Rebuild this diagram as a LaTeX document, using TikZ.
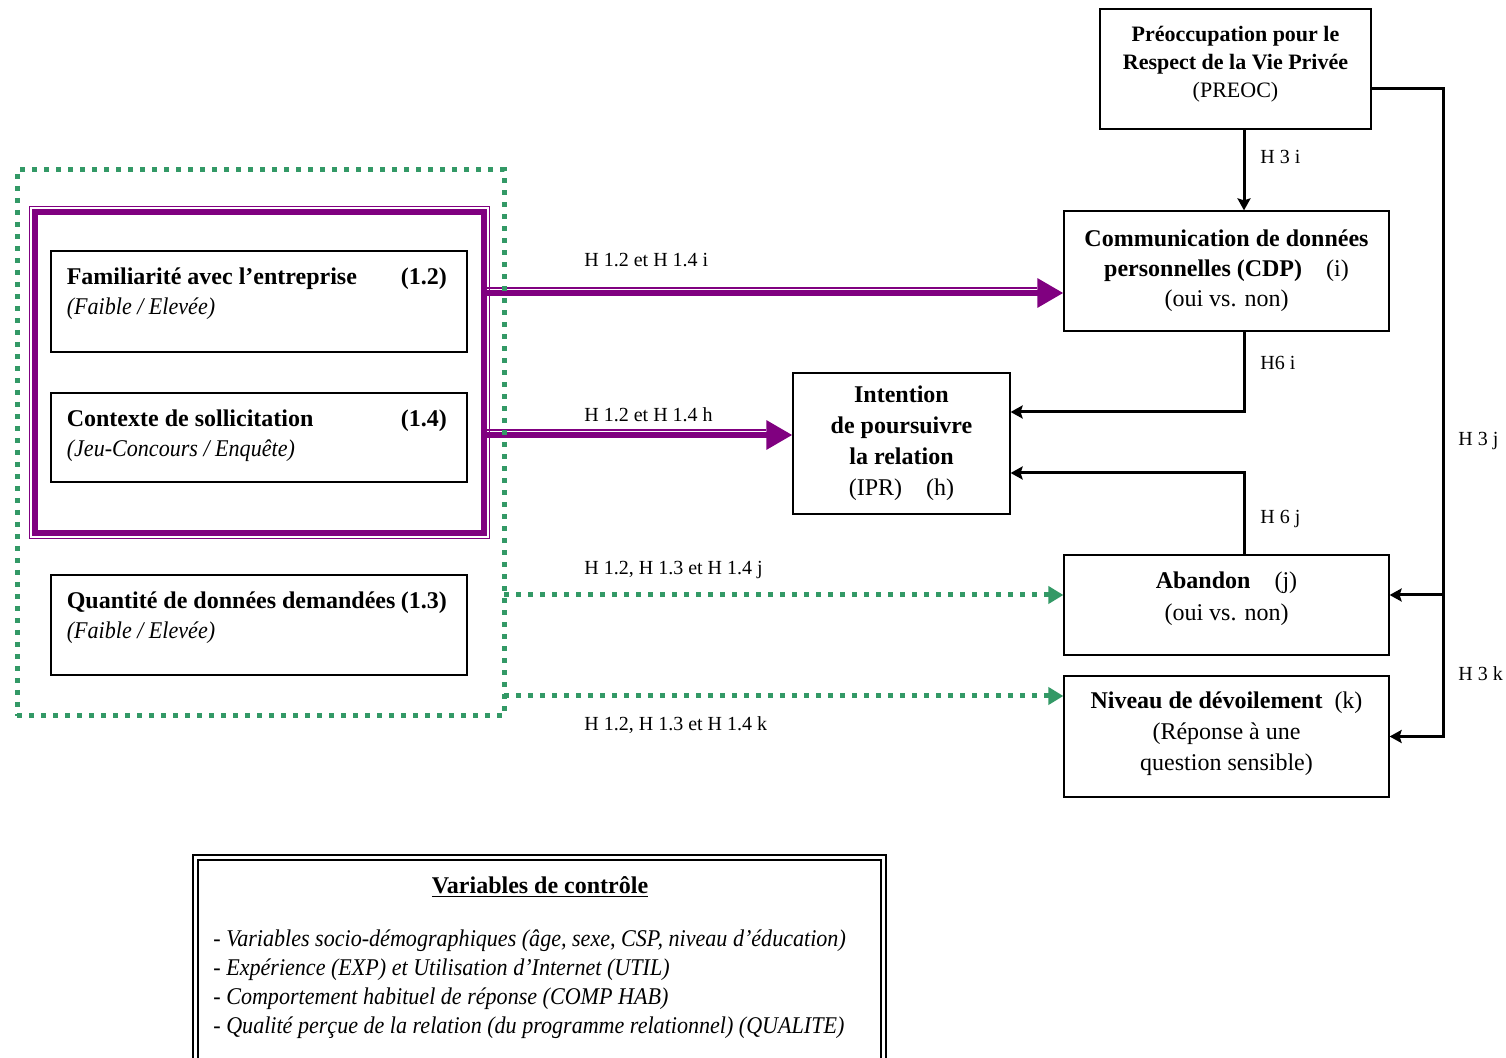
\documentclass[tikz,border=0pt]{standalone}
\usepackage{fontspec}
\setmainfont{Liberation Serif}
\newfontfamily\condfam{Liberation Serif}[FakeStretch=0.92]
\usetikzlibrary{arrows.meta,calc,positioning}
\definecolor{Plum}{HTML}{800080}
\definecolor{Jade}{HTML}{339966}
\newcommand{\factorbox}[6]{%
  \node[varbox,minimum height=#3] (#1) at (259,#2) {};
  \node[anchor=north west,inner sep=0pt,align=left,font=\fontsize{12}{15}\selectfont] (#1txt)
    at ($(#1.north west)+(16,17)$) {\makebox[190pt][l]{\textbf{#4}\hfill\textbf{#5}}\\{\condfam\itshape #6}};}

\begin{document}
\begin{tikzpicture}[x=0.5pt,y=-0.5pt,
    varbox/.style={draw,line width=0.6pt,minimum width=208pt},
    outcome/.style={draw,line width=0.6pt,align=center,font=\fontsize{12}{15}\selectfont},
    hyp/.style={font=\fontsize{10}{12}\selectfont,anchor=west,inner sep=0pt},
    flow/.style={line width=1.5pt,-{Stealth[length=6pt,width=6.5pt,inset=1pt]}},
    plumthick/.style={Plum,line width=3pt},
    plumthin/.style={Plum,line width=0.75pt},
    jadedots/.style={Jade,line width=2.5pt,dash pattern=on 2.5pt off 3.5pt}]
  \clip (0,0) rectangle (1506,1058);

  % manipulated factors
  \node[draw=Plum,line width=3pt,outer sep=0pt,minimum width=224.5pt,minimum height=160.5pt] (grp) at (259.5,372.5) {};
  \draw[plumthin] ($(grp.south west)+(-5.5,5.5)$) rectangle ($(grp.north east)+(5.5,-5.5)$);
  \factorbox{fam}{301.5}{50.5pt}{Familiarité avec l’entreprise}{(1.2)}{(Faible / Elevée)}
  \factorbox{ctx}{437.5}{44.5pt}{Contexte de sollicitation}{(1.4)}{(Jeu-Concours / Enquête)}
  \factorbox{qty}{625}{50pt}{Quantité de données demandées}{(1.3)}{(Faible / Elevée)}

  % dependent variables
  \node[outcome,minimum width=135.5pt,minimum height=60pt,text depth=7.5pt,font=\fontsize{11}{14}\selectfont] (preoc) at (1235.5,69)
    {\textbf{Préoccupation pour le}\\\textbf{Respect de la Vie Privée}\\(PREOC)};
  \node[outcome,minimum width=162.5pt,minimum height=60pt] (cdp) at (1226.5,271)
    {\textbf{Communication de données}\\\textbf{personnelles (CDP)}\quad(i)\\(oui vs. non)};
  \node[outcome,minimum width=108.5pt,minimum height=70.5pt,font=\fontsize{12}{15.5}\selectfont] (ipr) at (901.5,443.5)
    {\textbf{Intention}\\\textbf{de poursuivre}\\\textbf{la relation}\\(IPR)\quad(h)};
  \node[outcome,minimum width=162.5pt,minimum height=50pt,text depth=8.5pt,font=\fontsize{12}{16}\selectfont] (abn) at (1226.5,605)
    {\textbf{Abandon}\quad(j)\\(oui vs. non)};
  \node[outcome,minimum width=162.5pt,minimum height=60.5pt,text depth=5pt,font=\fontsize{12}{15.5}\selectfont] (niv) at (1226.5,736.5)
    {\textbf{Niveau de dévoilement}\enspace(k)\\(Réponse à une\\question sensible)};

  % purple paths
  \coordinate (ai) at ($(cdp.west)+(0,22)$);
  \coordinate (ah) at ($(ipr.west)+(0,-8.5)$);
  \draw[plumthick,-{Triangle[length=13pt,width=14pt]}] (grp.east |- ai) -- (ai);
  \draw[plumthin] ($(grp.east |- ai)+(0,-5)$) -- ($(ai)+(-26,-5)$);
  \draw[plumthick,-{Triangle[length=13pt,width=14pt]}] (grp.east |- ah) -- (ah);
  \draw[plumthin] ($(grp.east |- ah)+(0,-5)$) -- ($(ah)+(-26,-5)$);
  \node[hyp] (hi) at (584,260) {H 1.2 et H 1.4 i};
  \node[hyp] (hh) at (584,415) {H 1.2 et H 1.4 h};

  % green frame and paths
  \node[jadedots,draw,outer sep=0pt,minimum width=243.5pt,minimum height=273pt] (frame) at (260.5,443) {};
  \coordinate (aj) at ($(abn.west)+(0,-10)$);
  \coordinate (ak) at ($(niv.west)+(0,-40.5)$);
  \foreach \t in {aj,ak}
    \draw[jadedots,-{Triangle[length=7.5pt,width=8.5pt]}] (frame.east |- \t) -- (\t);
  \node[hyp] (hj) at (584,570) {H 1.2, H 1.3 et H 1.4 j};
  \node[hyp] (hk) at (584,725) {H 1.2, H 1.3 et H 1.4 k};

  % black paths
  \draw[flow] ($(preoc.south)+(8.5,0)$) coordinate (p3) -- (p3 |- cdp.north);
  \draw[flow] (p3 |- cdp.south) |- ($(ipr.east)+(0,-31.5)$);
  \draw[flow] (p3 |- abn.north) |- ($(ipr.east)+(0,29.5)$);
  \coordinate (rail) at (1443,89);
  \coordinate (aj3) at ($(abn.east)+(0,-10)$);
  \draw[flow] ($(preoc.east)+(0,20)$) -| (rail |- niv.east) -- (niv.east);
  \draw[flow] (rail |- aj3) -- (aj3);
  \node[hyp] (h3i) at (1260,157) {H 3 i};
  \node[hyp] (h6i) at (1260,363) {H6 i};
  \node[hyp] (h6j) at (1260,519) {H 6 j};
  \node[hyp] (h3j) at (1458,441) {H 3 j};
  \node[hyp] (h3k) at (1458,674) {H 3 k};

  % control variables
  \node[draw,double,line width=0.9pt,double distance=1.5pt,minimum width=344pt,minimum height=102pt] (ctrl) at (539.5,959.75) {};
  \node[font=\fontsize{12}{14}\selectfont\bfseries] (ctrltitle) at (540,887) {\underline{Variables de contrôle}};
  \node[anchor=west,align=left,inner sep=0pt,font=\fontsize{12}{14.5}\selectfont\condfam\itshape] (ctrllist) at (213,984)
    {- Variables socio-démographiques (âge, sexe, CSP, niveau d’éducation)\\
     - Expérience (EXP) et Utilisation d’Internet (UTIL)\\
     - Comportement habituel de réponse (COMP HAB)\\
     - Qualité perçue de la relation (du programme relationnel) (QUALITE)};
\end{tikzpicture}
\end{document}
